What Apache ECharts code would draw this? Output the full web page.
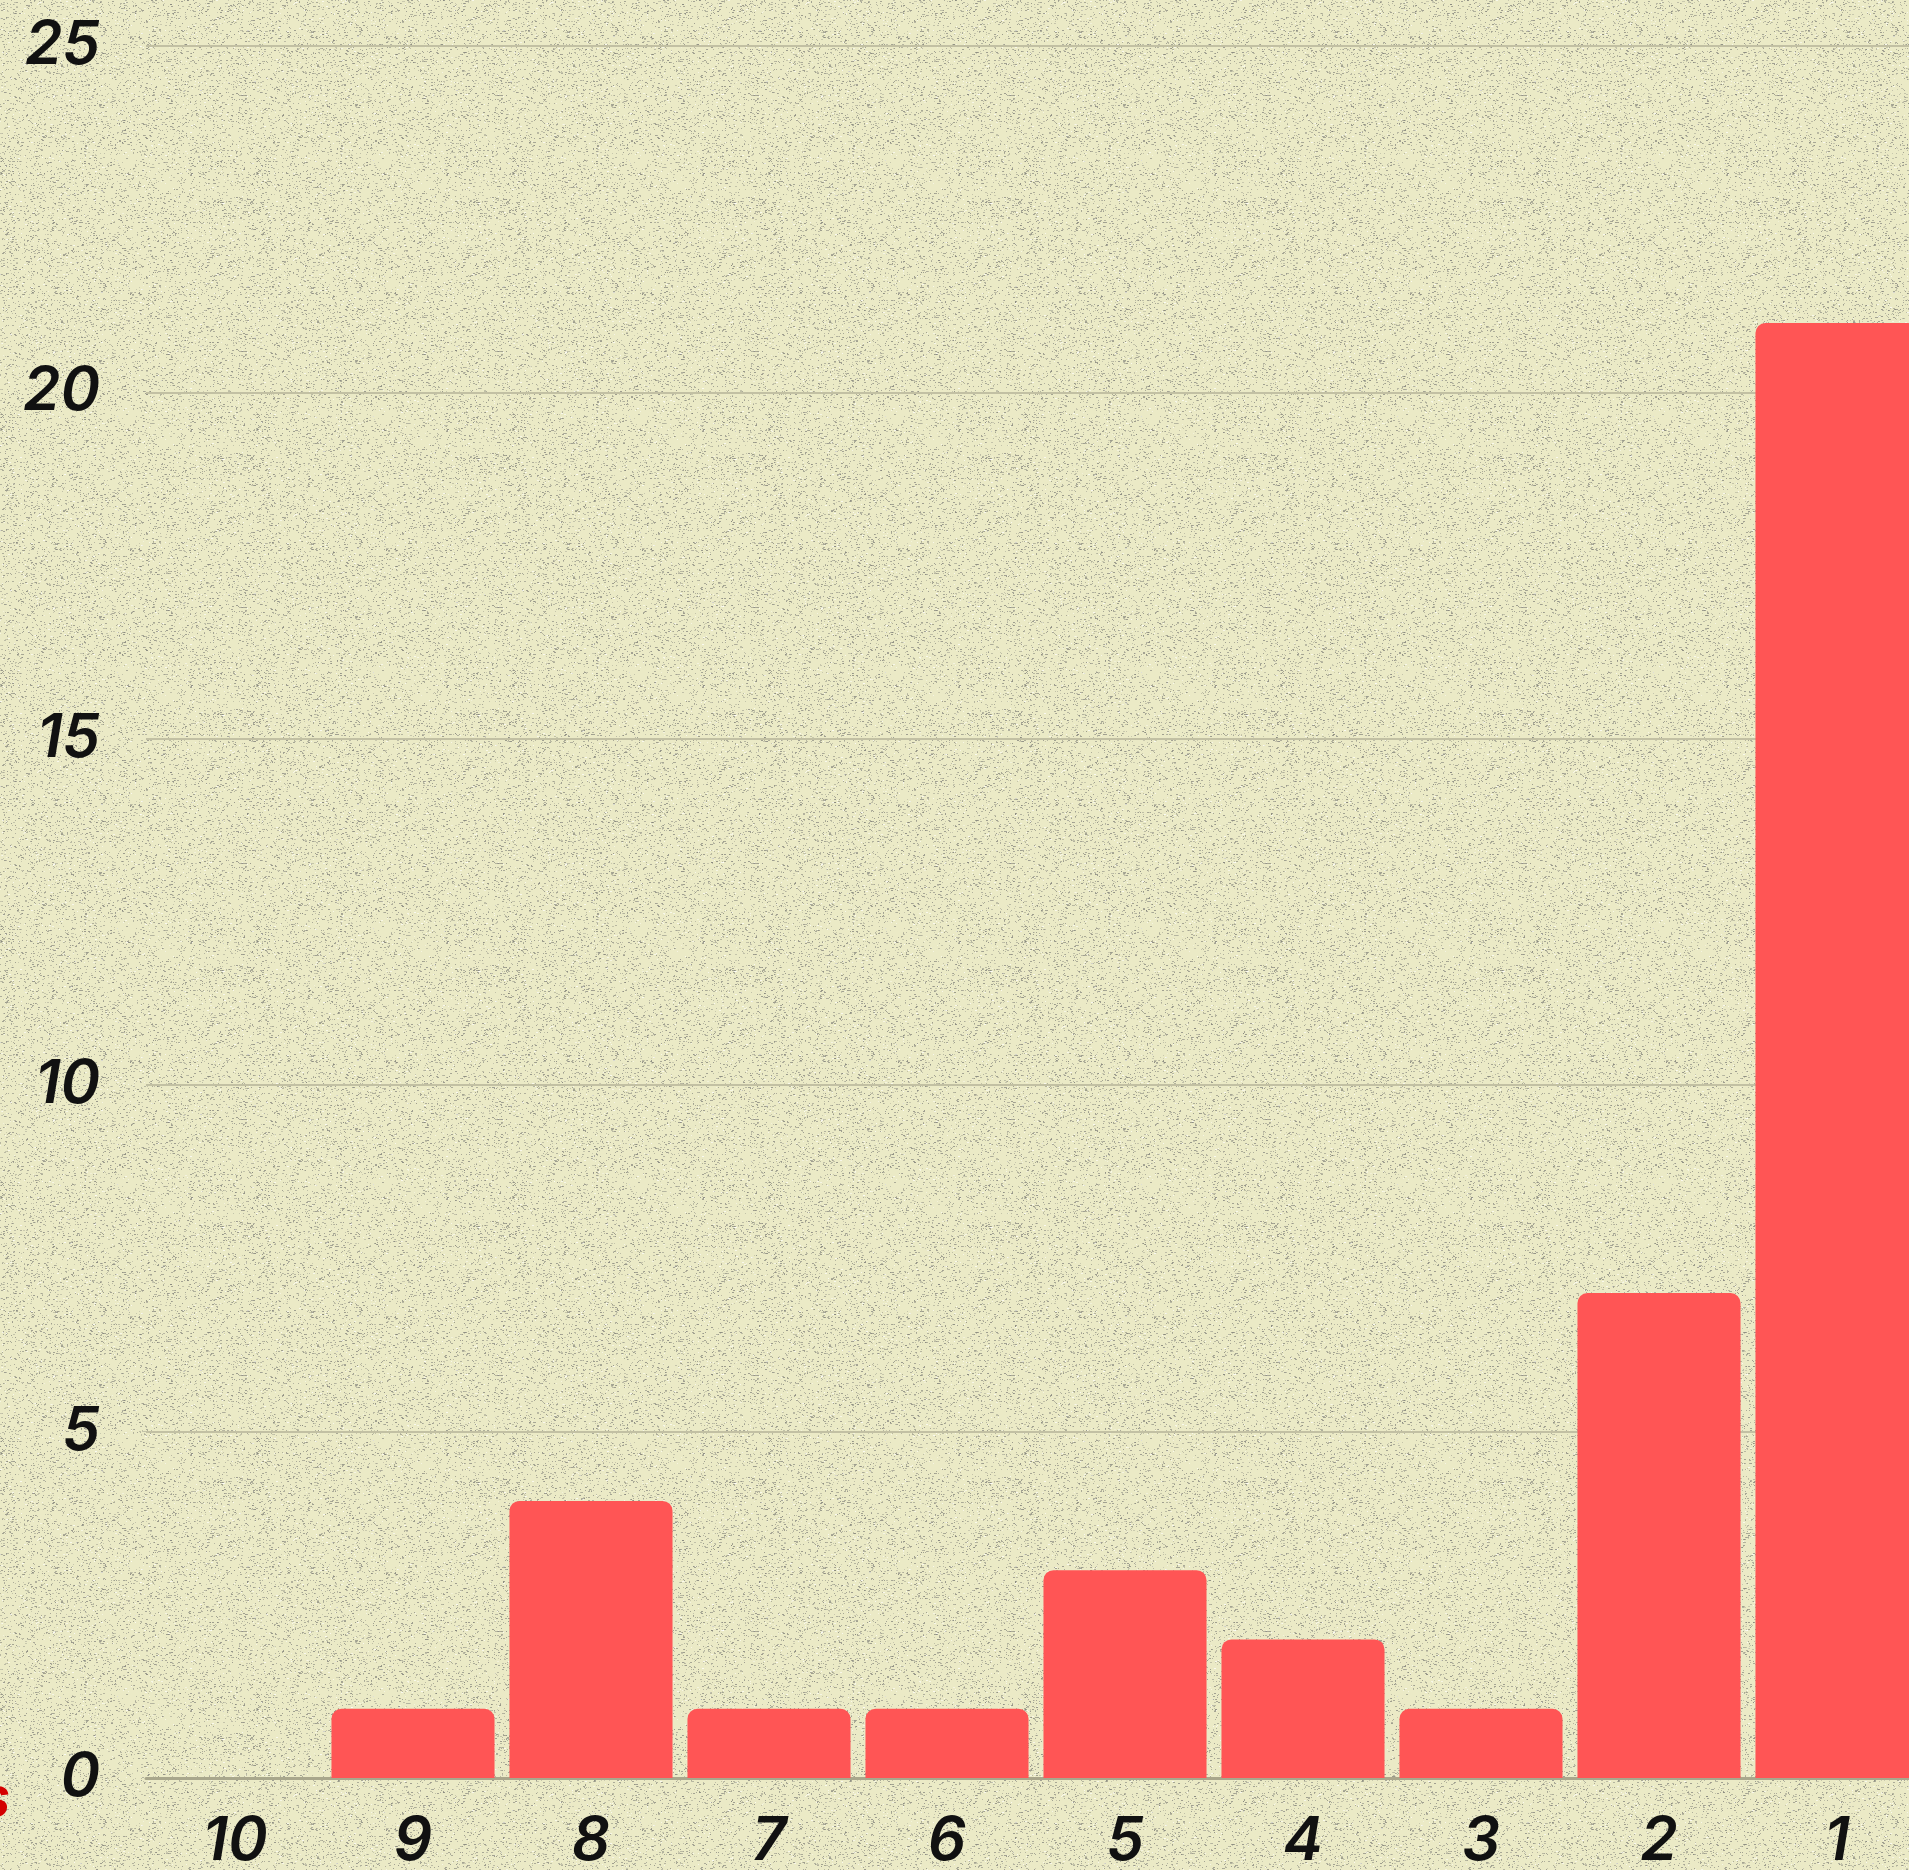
<!DOCTYPE html>
<html>
<head>
<meta charset="utf-8">
<script src="https://cdn.jsdelivr.net/npm/echarts@6/dist/echarts.min.js"></script>
<style>
  html, body { margin: 0; padding: 0; background: #eae9c4; }
  #main { width: 1909px; height: 1870px; }
</style>
</head>
<body>
<div id="main"></div>
<script>
// categories run from 10 down to 1
var categories = ['10', '9', '8', '7', '6', '5', '4', '3', '2', '1'];
var counts = [0, 1, 4, 1, 1, 3, 2, 1, 7, 21];
var yTicks = { min: 0, max: 25, interval: 5 };

// speckled paper background (deterministic, decoration only)
function makeNoise() {
  var c = document.createElement('canvas');
  c.width = 256; c.height = 256;
  var ctx = c.getContext('2d');
  ctx.fillStyle = '#ebeac6';
  ctx.fillRect(0, 0, 256, 256);
  var seed = 12345;
  function rnd() {
    seed = (seed * 1103515245 + 12345) & 0x7fffffff;
    return seed / 0x7fffffff;
  }
  for (var i = 0; i < 7000; i++) {
    var x = Math.floor(rnd() * 256), y = Math.floor(rnd() * 256);
    var a = 0.3 + rnd() * 0.45;
    if (rnd() < 0.12) {
      ctx.fillStyle = 'rgba(255,255,255,' + a.toFixed(2) + ')';
    } else {
      ctx.fillStyle = 'rgba(130,130,122,' + a.toFixed(2) + ')';
    }
    ctx.fillRect(x, y, rnd() < 0.3 ? 2 : 1, 1);
  }
  return c;
}

var labelFont = {
  color: '#111',
  fontFamily: 'Inter, "Open Sans", sans-serif',
  fontStyle: 'italic',
  fontWeight: 600,
  fontSize: 60
};

var chart = echarts.init(document.getElementById('main'));
chart.setOption({
  animation: false,
  backgroundColor: { image: makeNoise(), repeat: 'repeat' },
  grid: {
    left: 146, right: -17, top: 46, bottom: 92,
    containLabel: false,
    outerBoundsMode: 'none'
  },
  xAxis: {
    type: 'category',
    data: categories,
    axisTick: { show: false },
    axisLine: { show: true, lineStyle: { color: '#a9a78c', width: 3 } },
    axisLabel: Object.assign({ margin: 34 }, labelFont)
  },
  yAxis: {
    type: 'value',
    min: yTicks.min,
    max: yTicks.max,
    interval: yTicks.interval,
    axisLine: { show: false },
    axisTick: { show: false },
    splitLine: { lineStyle: { color: '#c2c0a3', width: 2 } },
    axisLabel: Object.assign({ margin: 46 }, labelFont)
  },
  series: [{
    type: 'bar',
    data: counts,
    barCategoryGap: '8.4%',
    itemStyle: { color: '#ff5555', borderRadius: [10, 10, 0, 0] }
  }],
  graphic: [{
    type: 'text',
    right: 1899,
    top: 1772,
    style: {
      text: 's',
      fill: '#d40000',
      font: 'italic 700 56px Inter, sans-serif'
    }
  }]
});
</script>
</body>
</html>
